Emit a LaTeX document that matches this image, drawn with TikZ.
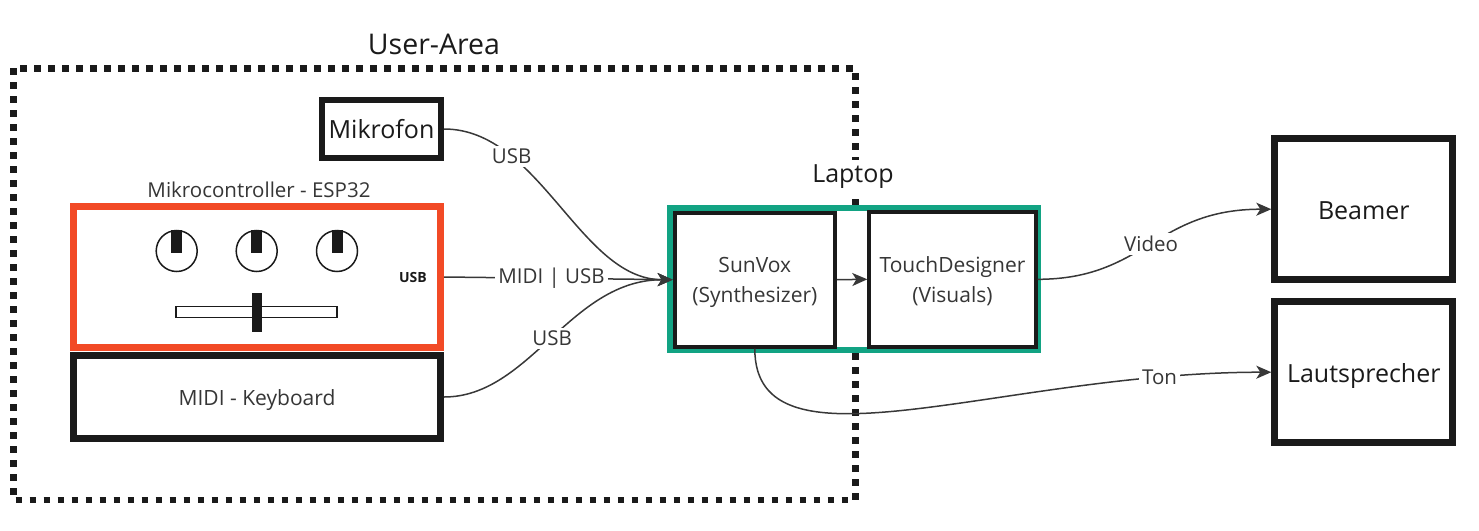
\documentclass[tikz,border=0pt]{standalone}
\usepackage{fontspec}
\setmainfont{Open Sans}
\usetikzlibrary{arrows.meta}
\usetikzlibrary{positioning}
\definecolor{ink}{HTML}{1A1A1A}
\definecolor{txt}{HTML}{363636}
\definecolor{wire}{HTML}{383838}
\definecolor{espred}{HTML}{F24A26}
\definecolor{lapgreen}{HTML}{12A383}
\tikzset{box/.style = {draw=ink, fill=white, inner sep=0pt, align=center, text=txt},
         conn/.style = {draw=wire, line width=1.5pt, -{Stealth[length=15pt, width=13pt, inset=4pt]}},
         lbl/.style = {fill=white, text=txt, inner sep=3pt, font=\fontsize{20.5}{24}\selectfont}}

\begin{document}
\begin{tikzpicture}[x=1pt, y=-1pt]
    \useasboundingbox (0, 0) rectangle (1479, 530);

    % user area
    \draw [ink, line width=6.5pt, dash pattern=on 6.5pt off 7.5pt] (13.3, 68.3) rectangle (855.3, 500);
    \node [lbl, text=ink, font=\fontsize{28.5}{34}\selectfont] (userarea) at (434, 44) {User-Area};

    \node [box, line width=6pt, minimum width=119pt, minimum height=58pt, text=ink,
           font=\fontsize{25}{30}\selectfont] (mic) at (381.5, 129) {Mikrofon};

    \node [lbl] (esplabel) at (259, 190) {Mikrocontroller - ESP32};
    \node [box, draw=espred, line width=7pt, minimum width=367pt, minimum height=141pt] (esp) at (257, 277) {};
    \node [box, line width=7pt, minimum width=367pt, minimum height=83pt, text height=22pt, text depth=5pt,
           font=\fontsize{21}{25}\selectfont] (kb) at (257, 397) {MIDI - Keyboard};

    % knobs and slider
    \draw [ink, line width=1.5pt] (176.7, 251) circle [radius=20.5];
    \draw [ink, line width=1.5pt] (256.7, 251) circle [radius=20.5];
    \draw [ink, line width=1.5pt] (337, 251) circle [radius=20.5];
    \fill [ink] (171.2, 229.5) rectangle (182.2, 253);
    \fill [ink] (251.2, 229.5) rectangle (262.2, 253);
    \fill [ink] (331.5, 229.5) rectangle (342.5, 253);
    \draw [ink, line width=1.5pt, fill=white] (176, 306.7) rectangle (337, 317.3);
    \fill [ink] (251.7, 292.7) rectangle (262, 331.7);
    \node [text=ink, font=\bfseries\fontsize{14}{17}\selectfont] (usbport) at (413, 277) {USB};

    % laptop
    \node [lbl, text=ink, font=\fontsize{25}{30}\selectfont, inner sep=5pt] (laptoplabel) at (853, 177) {Laptop};
    \node [box, draw=lapgreen, line width=6pt, minimum width=367.7pt, minimum height=142pt] (laptop) at (854.3, 279.2) {};
    \node [box, line width=4pt, minimum width=160.3pt, minimum height=134pt, text height=51.5pt, text depth=5pt,
           font=\fontsize{21}{30}\selectfont] (sv) at (754.8, 279.7) {SunVox\\(Synthesizer)};
    \node [box, line width=4pt, minimum width=166.4pt, minimum height=134.7pt, text height=52pt, text depth=5pt,
           font=\fontsize{21}{30}\selectfont] (td) at (952.5, 279.3) {TouchDesigner\\(Visuals)};

    % outputs
    \node [box, line width=7pt, minimum width=178pt, minimum height=141.3pt, text=ink, text height=20pt, text depth=0pt,
           font=\fontsize{25}{30}\selectfont] (bm) at (1363.8, 209.2) {Beamer};
    \node [box, line width=7pt, minimum width=178pt, minimum height=140.7pt, text=ink, text height=26pt, text depth=6pt,
           font=\fontsize{25}{30}\selectfont] (lt) at (1363.8, 372.2) {Lautsprecher};

    % connections
    \draw [conn] (mic.east) .. controls +(96, 0) and +(-92.7, 0) .. (sv.west) node [lbl, pos=0.27] {USB};
    \draw [conn] (esp.east) -- (sv.west) node [lbl, pos=0.47] {MIDI | USB};
    \draw [conn] (kb.east) .. controls +(86, 0) and +(-102.7, 0) .. (sv.west) node [lbl, pos=0.5] {USB};
    \draw [conn] (sv.east) -- (td.west);
    \draw [conn] (td.east) .. controls +(107, 0) and +(-116, 0) .. (bm.west) node [lbl, pos=0.5] {Video};
    \draw [conn] (sv.south) .. controls +(0, 131) and +(-271, 0) .. (lt.west) node [lbl, pos=0.86] {Ton};
\end{tikzpicture}
\end{document}
